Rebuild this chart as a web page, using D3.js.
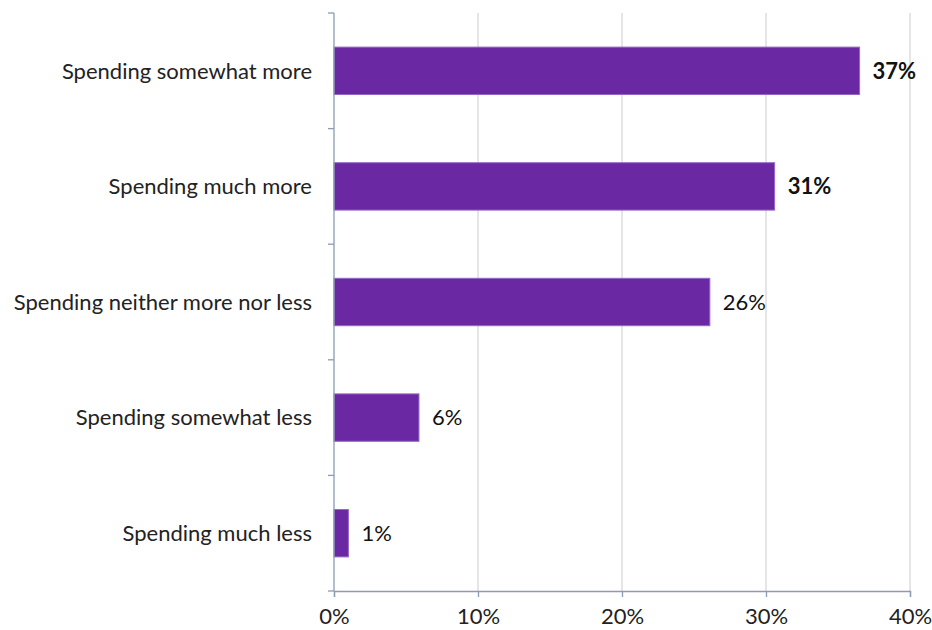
<!DOCTYPE html>
<html>
<head>
<meta charset="utf-8">
<script src="https://cdn.jsdelivr.net/npm/d3@7"></script>
<style>
  html, body { margin: 0; padding: 0; background: #fff; }
  svg { display: block; font-family: Lato, "Open Sans", sans-serif; }
</style>
</head>
<body>
<svg id="chart" width="932" height="630"></svg>
<script>
// Survey responses: change in spending
const categories = [
  "Spending somewhat more",
  "Spending much more",
  "Spending neither more nor less",
  "Spending somewhat less",
  "Spending much less"
];
const shares = [0.365, 0.306, 0.261, 0.059, 0.010];
const boldLabels = [true, true, false, false, false];
const xTicks = [0, 0.1, 0.2, 0.3, 0.4];

const svg = d3.select("#chart");
const plot = { left: 334, right: 910, top: 13, bottom: 591 };

const x = d3.scaleLinear().domain([0, 0.4]).range([plot.left, plot.right]);
const y = d3.scaleBand().domain(categories).range([plot.top, plot.bottom]).paddingInner(0.59).paddingOuter(0.295);

const pct = d3.format(".0%");
const axisColor = "#8a9bb3";
const fontSize = 22;

// vertical gridlines
svg.append("g")
  .selectAll("line")
  .data(xTicks.filter(d => d > 0))
  .join("line")
  .attr("x1", d => x(d)).attr("x2", d => x(d))
  .attr("y1", plot.top).attr("y2", plot.bottom)
  .attr("stroke", "#dddddd").attr("stroke-width", 1.5);

// bars
svg.append("g")
  .selectAll("rect")
  .data(categories)
  .join("rect")
  .attr("x", x(0))
  .attr("y", d => y(d))
  .attr("width", (d, i) => x(shares[i]) - x(0))
  .attr("height", y.bandwidth())
  .attr("fill", "#6a29a2")
  .attr("stroke", "#9668c6")
  .attr("stroke-width", 1);

// x axis
const xAxis = svg.append("g")
  .attr("transform", `translate(0,${plot.bottom})`)
  .call(d3.axisBottom(x).tickValues(xTicks).tickFormat(pct).tickSizeOuter(0).tickSize(6).tickPadding(11));
xAxis.select(".domain").attr("stroke", axisColor).attr("stroke-width", 1.3);
xAxis.selectAll(".tick line").attr("stroke", axisColor).attr("stroke-width", 1.3);
xAxis.selectAll(".tick text").attr("font-size", fontSize).attr("fill", "#222").attr("font-family", "Lato, sans-serif");

// y axis with ticks at band boundaries
const yAxis = svg.append("g").attr("transform", `translate(${plot.left},0)`);
yAxis.append("line")
  .attr("x1", 0).attr("x2", 0)
  .attr("y1", plot.top).attr("y2", plot.bottom)
  .attr("stroke", axisColor).attr("stroke-width", 1.3);
const step = y.step();
const boundaries = d3.range(categories.length + 1).map(i => plot.top + i * step);
yAxis.selectAll("line.tick")
  .data(boundaries)
  .join("line")
  .attr("class", "tick")
  .attr("x1", -6).attr("x2", 0)
  .attr("y1", d => d).attr("y2", d => d)
  .attr("stroke", axisColor).attr("stroke-width", 1.3);

// category labels
svg.append("g")
  .selectAll("text")
  .data(categories)
  .join("text")
  .attr("x", 312)
  .attr("y", d => y(d) + y.bandwidth() / 2)
  .attr("dy", "0.35em")
  .attr("text-anchor", "end")
  .attr("font-size", fontSize)
  .attr("fill", "#222")
  .text(d => d);

// value labels
svg.append("g")
  .selectAll("text")
  .data(categories)
  .join("text")
  .attr("x", (d, i) => x(shares[i]) + 13)
  .attr("y", d => y(d) + y.bandwidth() / 2)
  .attr("dy", "0.35em")
  .attr("font-size", fontSize)
  .attr("font-weight", (d, i) => boldLabels[i] ? "bold" : "normal")
  .attr("fill", "#111")
  .text((d, i) => pct(shares[i]));
</script>
</body>
</html>
